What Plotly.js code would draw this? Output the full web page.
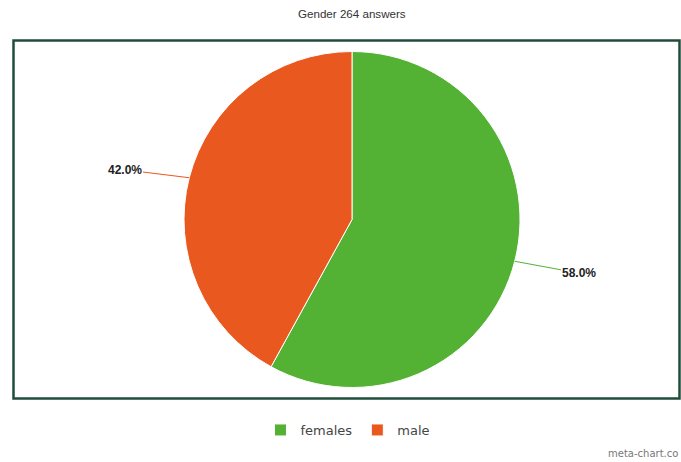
<!DOCTYPE html>
<html>
<head>
<meta charset="utf-8">
<script src="https://cdn.plot.ly/plotly-3.0.1.min.js"></script>
<style>html,body{margin:0;padding:0;background:#fff;}#chart{width:681px;height:462px;}</style>
</head>
<body>
<div id="chart"></div>
<script>
const categories = ['females', 'male'];
const values = [58.0, 42.0];
const colors = ['#53b234', '#e9581e'];
const titleText = 'Gender 264 answers';

const W = 681, H = 462;
// pie placement (pixels)
const CX = 352, CY = 219.5, R = 168;
const total = values.reduce((a, b) => a + b, 0);

const annotations = [];
let cum = 0;
values.forEach((v, i) => {
  const mid = (cum + v / 2) / total * 2 * Math.PI; // clockwise from top
  cum += v;
  const sx = Math.sin(mid), sy = -Math.cos(mid); // screen dir (y down)
  const px = CX + R * sx, py = CY + R * sy;
  const ex = CX + (R + 40) * sx, ey = CY + (R + 40) * sy + 2;
  const side = sx >= 0 ? 1 : -1;
  const tx = ex + side * 26, ty = ey;
  annotations.push({
    x: px / W, y: 1 - py / H, xref: 'paper', yref: 'paper',
    ax: tx - px, ay: ty - py, axref: 'pixel', ayref: 'pixel',
    text: '<b>' + (v / total * 100).toFixed(1) + '%</b>',
    showarrow: true, arrowhead: 0, arrowwidth: 1, arrowcolor: colors[i],
    font: {family: 'Liberation Sans, Arial, sans-serif', size: 12, color: '#222'},
    standoff: 0, startstandoff: 0
  });
});

annotations.push({
  text: titleText, x: 351.5 / W, y: 1 - 14 / H, xref: 'paper', yref: 'paper',
  showarrow: false, xanchor: 'center', yanchor: 'middle',
  font: {family: 'Liberation Sans, Arial, sans-serif', size: 11.6, color: '#333'}
});
annotations.push({
  text: 'meta-chart.co', x: 680 / W, y: 1 - 453 / H, xref: 'paper', yref: 'paper',
  showarrow: false, xanchor: 'right', yanchor: 'middle',
  font: {family: 'DejaVu Sans, sans-serif', size: 10, color: '#777'}
});

const trace = {
  type: 'pie',
  labels: categories,
  values: values,
  marker: {colors: colors, line: {color: '#ffffff', width: 1}},
  sort: false,
  direction: 'clockwise',
  rotation: 0,
  textinfo: 'none',
  hoverinfo: 'label+percent',
  domain: {x: [(CX - R) / W, (CX + R) / W], y: [1 - (CY + R) / H, 1 - (CY - R) / H]}
};

const layout = {
  width: W, height: H,
  margin: {l: 0, r: 0, t: 0, b: 0},
  paper_bgcolor: '#fff',
  showlegend: true,
  legend: {
    orientation: 'h', x: 348 / W, xanchor: 'center', y: 1 - 430 / H, yanchor: 'middle',
    font: {family: 'DejaVu Sans, sans-serif', size: 13, color: '#444'},
    itemwidth: 30, tracegroupgap: 0
  },
  annotations: annotations,
  shapes: [{
    type: 'rect', xref: 'paper', yref: 'paper',
    x0: 13.5 / W, x1: 679.5 / W, y0: 1 - 398.5 / H, y1: 1 - 40.5 / H,
    line: {color: '#1f4d3b', width: 2.5}, fillcolor: 'rgba(0,0,0,0)', layer: 'below'
  }]
};

Plotly.newPlot('chart', [trace], layout, {displayModeBar: false, staticPlot: true});
</script>
</body>
</html>
